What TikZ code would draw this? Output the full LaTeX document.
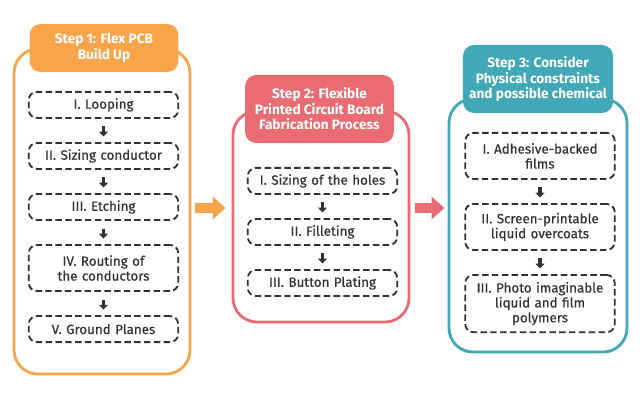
\documentclass[tikz,border=0pt]{standalone}
\usepackage{fontspec}
\setmainfont{Fira Sans}
\newfontfamily\medfont{Fira Sans}[FakeBold=0.5]
\usetikzlibrary{positioning,arrows.meta}
\definecolor{flexorange}{RGB}{248,164,74}
\definecolor{flexred}{RGB}{232,108,114}
\definecolor{flexteal}{RGB}{64,168,182}
\definecolor{stepgray}{RGB}{50,50,50}

\begin{document}
\begin{tikzpicture}[
  x=0.025cm, y=-0.025cm,
  node distance=0.58cm,
  every node/.style={font=\medfont\fontsize{9.5}{10.6}\selectfont},
  panel/.style={draw=#1,line width=2pt,rounded corners=0.6cm,fill=white,minimum width=4.4cm},
  header/.style={fill=#1,rounded corners=0.28cm,text=white,align=center,minimum width=3.72cm,font=\normalfont\bfseries\fontsize{9.7}{11}\selectfont},
  stepbox/.style={draw=stepgray,line width=1.3pt,dash pattern=on 4.6pt off 2.4pt,rounded corners=0.2cm,minimum width=3.68cm,minimum height=0.65cm,text width=3.5cm,align=center,text=stepgray},
  tall/.style={minimum height=1.15cm},
  taller/.style={minimum height=1.43cm},
  steparrow/.style={-{Triangle[length=0.12cm,width=0.22cm]},line width=2.3pt,stepgray,shorten <=0.19cm,shorten >=0.14cm},
  bigarrow/.style={draw=#1,line width=0.26cm,-{Triangle[length=0.32cm,width=0.55cm]}}
]
  \useasboundingbox (0,0) rectangle (640,400);

  % step 1
  \node[panel=flexorange,minimum height=8.125cm] (panel1) at (102,211.5) {};
  \node[header=flexorange,minimum height=1.2cm] (head1) at (104,48) {Step 1: Flex PCB\\Build Up};
  \node[stepbox,anchor=north] (loop) at (103.5,91) {I. Looping};
  \node[stepbox,below=of loop] (sizing) {II. Sizing conductor};
  \node[stepbox,below=of sizing] (etch) {III. Etching};
  \node[stepbox,tall,below=of etch] (route) {IV. Routing of\\the conductors};
  \node[stepbox,below=of route] (ground) {V. Ground Planes};
  \draw[steparrow] (loop) -- (sizing);
  \draw[steparrow] (sizing) -- (etch);
  \draw[steparrow] (etch) -- (route);
  \draw[steparrow] (route) -- (ground);

  % step 2
  \node[panel=flexred,minimum height=5.275cm] (panel2) at (321,216.5) {};
  \node[header=flexred,minimum height=1.7cm] (head2) at (319.5,109) {Step 2: Flexible\\Printed Circuit Board\\Fabrication Process};
  \node[stepbox,anchor=north] (holes) at (322.5,167) {I. Sizing of the holes};
  \node[stepbox,below=of holes] (fillet) {II. Filleting};
  \node[stepbox,below=of fillet] (plating) {III. Button Plating};
  \draw[steparrow] (holes) -- (fillet);
  \draw[steparrow] (fillet) -- (plating);

  % step 3
  \node[panel=flexteal,minimum width=4.45cm,minimum height=6.325cm] (panel3) at (538,225.5) {};
  \node[header=flexteal,minimum width=3.75cm,minimum height=1.7cm] (head3) at (538,79) {Step 3: Consider\\Physical constraints\\and possible chemical};
  \node[stepbox,tall,anchor=north] (adhesive) at (540,132) {I. Adhesive-backed\\films};
  \node[stepbox,tall,below=of adhesive] (screen) {II. Screen-printable\\liquid overcoats};
  \node[stepbox,taller,below=of screen] (photo) {III. Photo imaginable\\liquid and film\\polymers};
  \draw[steparrow] (adhesive) -- (screen);
  \draw[steparrow] (screen) -- (photo);

  % between the steps
  \coordinate (mid) at (0,208);
  \draw[bigarrow=flexorange,shorten <=0.1cm,shorten >=0.15cm] (panel1.east |- mid) -- (panel2.west |- mid);
  \draw[bigarrow=flexred,shorten <=0.12cm,shorten >=0.08cm] (panel2.east |- mid) -- (panel3.west |- mid);
\end{tikzpicture}
\end{document}
